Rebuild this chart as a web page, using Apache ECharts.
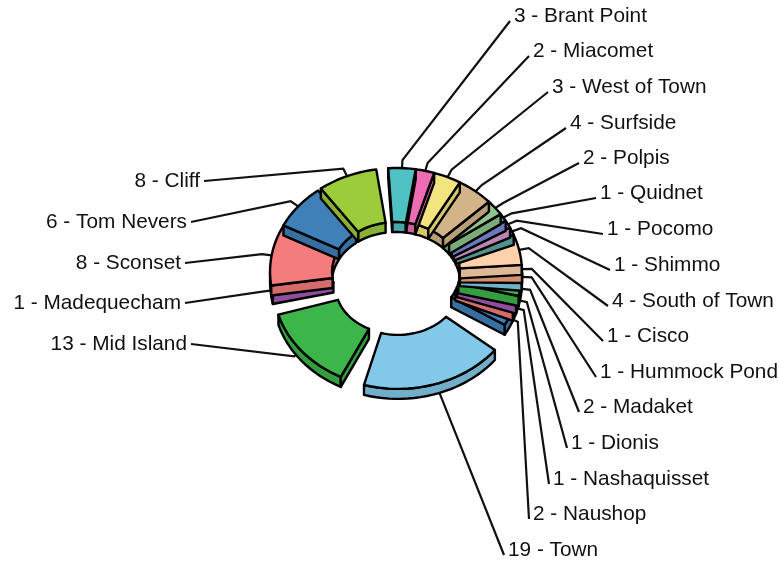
<!DOCTYPE html>
<html>
<head>
<meta charset="utf-8">
<title>Neighborhoods</title>
<script src="https://cdn.jsdelivr.net/npm/echarts@6/dist/echarts.min.js"></script>
<style>
  html, body { margin: 0; padding: 0; background: #fff; }
  #chart { width: 779px; height: 561px; }
</style>
</head>
<body>
<div id="chart"></div>
<script>
// slice data, clockwise from the top
const areas = ['Brant Point', 'Miacomet', 'West of Town', 'Surfside', 'Polpis', 'Quidnet', 'Pocomo', 'Shimmo',
  'South of Town', 'Cisco', 'Hummock Pond', 'Madaket', 'Dionis', 'Nashaquisset', 'Naushop', 'Town',
  'Mid Island', 'Madequecham', 'Sconset', 'Tom Nevers', 'Cliff']
const counts = [3, 2, 3, 4, 2, 1, 1, 1, 4, 1, 1, 2, 1, 1, 2, 19, 13, 1, 8, 6, 8]
const colors = ['#4fc0c4', '#ee6cb4', '#f2e47e', '#d3b488', '#8fc48c', '#7c8ad8', '#d79ad0', '#5fa8a0',
  '#ffd2ac', '#f6a47e', '#82cbe8', '#3cb54a', '#a45ab8', '#f47c7c', '#3f80b8', '#82c8e8',
  '#3cb54a', '#a45ab8', '#f47c7c', '#3f80b8', '#9ccc3c']

// ring shape on screen
const cx = 396
const cy = 272
const outerX = 123
const outerY = 101
const innerX = 61
const innerY = 47
const depth = 10
const startAngle = -3.7
const basePull = 3
// pulled out slices: extra shift, and degrees trimmed off each end
const pulled = { Town: [1, 13], 'Mid Island': [3, 13] }
const trimmed = { Town: [7.4, 6], 'Mid Island': [5, 3.7], Cliff: [1, 5] }

// where each label sits: [x, y, anchor]
const labelSpots = [[514, 15, 'left'], [533, 50, 'left'], [552, 86, 'left'], [570, 122, 'left'], [583, 157, 'left'],
  [600, 192, 'left'], [607, 228, 'left'], [614, 264, 'left'], [612, 300, 'left'], [607, 335, 'left'],
  [600, 371, 'left'], [583, 406, 'left'], [571, 442, 'left'], [553, 478, 'left'], [533, 513, 'left'],
  [508, 549, 'left'], [187, 343, 'right'], [181, 302, 'right'], [181, 262, 'right'], [187, 221, 'right'], [200, 180, 'right']]

const total = counts.reduce((a, b) => a + b, 0)
const rad = (d) => d * Math.PI / 180

// side walls are the top colour a bit darker
const darken = (hex) => {
  const parts = [1, 3, 5].map((p) => Math.round(parseInt(hex.substr(p, 2), 16) * 0.87))
  return 'rgb(' + parts.join(',') + ')'
}

const arcPoints = (a0, a1, rx, ry, ox, oy) => {
  const n = Math.max(2, Math.ceil((a1 - a0) / 3))
  const pts = []
  for (let i = 0; i <= n; i++) {
    const a = rad(a0 + (a1 - a0) * i / n)
    pts.push([ox + rx * Math.sin(a), oy - ry * Math.cos(a)])
  }
  return pts
}
const drop = (pts) => pts.map((p) => [p[0], p[1] + depth])
const wall = (pts) => pts.concat(drop(pts).reverse())

const renderSlice = (params, api) => {
  const i = params.dataIndex
  const before = counts.slice(0, i).reduce((a, b) => a + b, 0)
  const trim = trimmed[areas[i]] || [0, 0]
  const a0 = startAngle + before / total * 360 + trim[0]
  const a1 = startAngle + (before + api.value(0)) / total * 360 - trim[1]
  const mid = rad((a0 + a1) / 2)
  const extra = pulled[areas[i]] || [0, 0]
  const ox = cx + basePull * Math.sin(mid) + extra[0]
  const oy = cy - basePull * Math.cos(mid) + extra[1]
  const outer = arcPoints(a0, a1, outerX, outerY, ox, oy)
  const inner = arcPoints(a0, a1, innerX, innerY, ox, oy)
  // upper slices go over lower ones, their walls hide part of the next slice
  const z = 600 - Math.round(oy - (outerY + innerY) / 2 * Math.cos(mid))

  const fill = colors[i]
  const side = darken(fill)
  const line = { stroke: '#000', lineWidth: 2.4, lineJoin: 'round' }
  const poly = (points, color, z2) => ({
    type: 'polygon', z2, shape: { points }, style: { fill: color, ...line }
  })
  const children = []

  // side walls first, only the ones that face the viewer
  const lowA = Math.max(a0, 90)
  const highA = Math.min(a1, 270)
  if (highA > lowA) children.push(poly(wall(arcPoints(lowA, highA, outerX, outerY, ox, oy)), side, z))
  if (a0 < 90) children.push(poly(wall(arcPoints(a0, Math.min(a1, 90), innerX, innerY, ox, oy)), side, z))
  if (a1 > 270) children.push(poly(wall(arcPoints(Math.max(a0, 270), a1, innerX, innerY, ox, oy)), side, z))
  if (Math.sin(rad(a1)) > 0) children.push(poly(wall([outer[outer.length - 1], inner[inner.length - 1]]), side, z))
  if (Math.sin(rad(a0)) < 0) children.push(poly(wall([outer[0], inner[0]]), side, z))

  // top face
  children.push(poly(outer.concat(inner.slice().reverse()), fill, z))

  // leader line and label
  const spot = labelSpots[i]
  const tip = [ox + outerX * Math.sin(mid), oy - outerY * Math.cos(mid)]
  const elbow = [ox + outerX * 1.08 * Math.sin(mid), oy - outerY * 1.08 * Math.cos(mid)]
  const end = [spot[0] + (spot[2] === 'left' ? -4 : 4), spot[1] + (spot[2] === 'left' ? 6 : 1)]
  children.push({
    type: 'polyline', z2: 1, shape: { points: [tip, elbow, end] },
    style: { stroke: '#111', lineWidth: 2.2, fill: null }
  })
  children.push({
    type: 'text', z2: 1000,
    style: {
      x: spot[0], y: spot[1] + 1,
      text: api.value(0) + ' - ' + areas[i],
      fill: '#111', font: '20.8px "Liberation Sans", Arial, sans-serif',
      align: spot[2], verticalAlign: 'middle'
    }
  })
  return { type: 'group', children }
}

const chart = echarts.init(document.getElementById('chart'))
chart.setOption({
  animation: false,
  series: [{
    type: 'custom',
    coordinateSystem: 'none',
    silent: true,
    data: counts.map((v) => [v]),
    renderItem: renderSlice
  }]
})
</script>
</body>
</html>
